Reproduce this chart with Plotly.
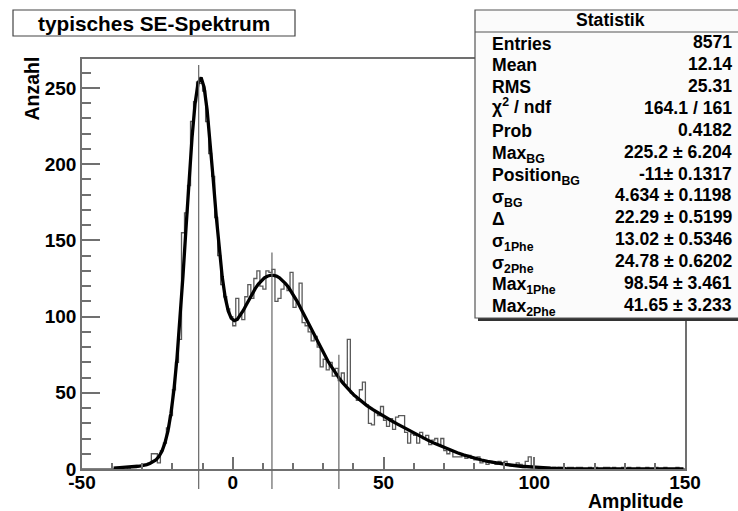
import numpy as np
import plotly.graph_objects as go

FONT = "Liberation Sans"

# ---------------- data ----------------
bin_low = -50
bin_width = 1
counts = [
    0, 0, 0, 0, 0, 0, 0, 0, 0, 0,            # -50 .. -41
    0, 1, 0, 1, 1, 0, 1, 1, 2, 2,            # -40 .. -31
    3, 3, 4, 10, 10, 4, 12, 17, 27, 35,      # -30 .. -21
    52, 70, 85, 155, 168, 186, 228, 241, 254, 253,   # -20 .. -11
    248, 228, 207, 192, 165, 140, 121, 113, 105, 100,  # -10 .. -1
    94, 112, 101, 98, 113, 121, 112, 125, 130, 120,    # 0 .. 9
    118, 130, 129, 131, 110, 112, 118, 121, 117, 129,  # 10 .. 19
    106, 109, 122, 96, 94, 90, 84, 87, 80, 67,         # 20 .. 29
    72, 65, 70, 61, 66, 58, 63, 55, 85, 50,            # 30 .. 39
    48, 45, 52, 57, 42, 30, 29, 37, 35, 41,            # 40 .. 49
    32, 28, 33, 26, 34, 35, 35, 24, 17, 23,            # 50 .. 59
    22, 17, 24, 20, 22, 16, 19, 20, 16, 20,            # 60 .. 69
    12, 10, 12, 8, 8, 8, 9, 7, 9, 7,                   # 70 .. 79
    6, 8, 4, 5, 3, 5, 4, 3, 5, 3,                      # 80 .. 89
    5, 3, 2, 2, 4, 3, 1, 5, 8, 1,                      # 90 .. 99
    1, 1, 0, 1, 1, 0, 1, 0, 1, 1,                      # 100 .. 109
    0, 1, 1, 0, 1, 1, 0, 0, 1, 0,                      # 110 .. 119
    1, 0, 0, 1, 1, 0, 1, 0, 0, 1,                      # 120 .. 129
    0, 1, 0, 0, 1, 0, 0, 1, 0, 0,                      # 130 .. 139
    1, 0, 0, 1, 0, 0, 0, 1, 0, 0,                      # 140 .. 149
]

fit_x = [-39.5, -37.5, -35.5, -33.5, -32.5, -31.5, -30.5, -29.5, -28.5, -27.5,
         -26.5, -25.5, -24.5, -23.5, -22.5, -21.5, -20.5, -19.5, -18.5, -17.5,
         -16.5, -15.5, -14.5, -13.5, -12.5, -11.5, -10.5, -9.5, -8.5, -7.5,
         -6.5, -5.5, -4.5, -3.5, -2.5, -1.5, -0.5, 0.5, 1.5, 2.5,
         3.5, 4.5, 5.5, 6.5, 7.5, 8.5, 9.5, 10.5, 11.5, 12.5,
         13.5, 14.5, 15.5, 16.5, 17.5, 18.5, 19.5, 20.5, 21.5, 22.5,
         23.5, 24.5, 25.5, 26.5, 27.5, 28.5, 29.5, 30.5, 31.5, 32.5,
         33.5, 34.5, 35.5, 36.5, 37.5, 38.5, 39.5, 40.5, 42.5, 44.5,
         46.5, 48.5, 50.5, 52.5, 54.5, 56.5, 58.5, 60.5, 62.5, 64.5,
         66.5, 68.5, 70.5, 72.5, 74.5, 76.5, 78.5, 80.5, 82.5, 84.5,
         86.5, 88.5, 90.5, 95.5, 100.5, 105.5, 110.5, 120.5, 135.5, 149.5]
fit_y = [0.6, 0.8, 1.0, 1.3, 1.5, 1.8, 2.1, 2.4, 2.9, 3.6,
         4.5, 5.9, 8.2, 11.6, 17.0, 24.9, 36.4, 52.1, 72.6, 97.7,
         126.8, 158.2, 189.5, 217.6, 239.7, 253.2, 256.8, 250.4, 235.6, 214.6,
         190.5, 166.2, 144.2, 126.1, 112.6, 103.7, 98.9, 97.3, 98.2, 100.7,
         104.0, 107.8, 111.6, 115.2, 118.5, 121.3, 123.6, 125.4, 126.5, 127.1,
         127.1, 126.6, 125.5, 123.8, 121.7, 119.2, 116.2, 113.0, 109.5, 105.7,
         101.8, 97.9, 93.8, 89.8, 85.8, 81.9, 78.1, 74.5, 71.0, 67.8,
         64.7, 61.7, 59.0, 56.5, 54.1, 51.9, 49.9, 48.0, 44.6, 41.6,
         38.9, 36.4, 34.1, 31.8, 29.6, 27.4, 25.3, 23.2, 21.0, 19.1,
         17.2, 15.5, 13.8, 12.1, 10.7, 9.3, 8.05, 6.9, 5.9, 5.0,
         4.25, 3.6, 3.0, 1.8, 1.1, 0.6, 0.3, 0.1, 0.0, 0.0]

marker_x = [-11.3, 13.0, 35.2]
marker_top = [265, 142, 75]

x_tickvals = [-50, 0, 50, 100, 150]
x_ticktext = ["-50", "0", "50", "100", "150"]
y_tickvals = [0, 50, 100, 150, 200, 250]
y_ticktext = ["0", "50", "100", "150", "200", "250"]

title_text = "typisches SE-Spektrum"
x_title = "Amplitude"
y_title = "Anzahl"
stats_title = "Statistik"
stat_labels = ["Entries", "Mean", "RMS", "χ<sup>2</sup> / ndf", "Prob",
               "Max<sub>BG</sub>", "Position<sub>BG</sub>", "σ<sub>BG</sub>",
               "Δ", "σ<sub>1Phe</sub>", "σ<sub>2Phe</sub>",
               "Max<sub>1Phe</sub>", "Max<sub>2Phe</sub>"]
stat_values = ["8571", "12.14", "25.31", "164.1 / 161", "0.4182",
               "225.2 ± 6.204", "-11± 0.1317", "4.634 ± 0.1198",
               "22.29 ± 0.5199", "13.02 ± 0.5346", "24.78 ± 0.6202",
               "98.54 ± 3.461", "41.65 ± 3.233"]

# ---------------- layout helpers (pixel -> paper) ----------------
W, H = 738, 511
L, R, T, B = 82, 685, 59, 469
PW, PH = R - L, B - T


def xp(px):
    return (px - L) / PW


def yp(py):
    return (B - py) / PH


edges = bin_low + bin_width * np.arange(len(counts) + 1)
hist_y = list(counts) + [counts[-1]]

fig = go.Figure()
fig.add_trace(go.Scatter(x=edges, y=hist_y, mode="lines", line_shape="hv",
                         line=dict(color="#5a5a5a", width=1.3),
                         hoverinfo="skip", showlegend=False))
fig.add_trace(go.Scatter(x=fit_x, y=fit_y, mode="lines",
                         line=dict(color="black", width=3.3),
                         hoverinfo="skip", showlegend=False))

shapes = []
for mx, mt in zip(marker_x, marker_top):
    shapes.append(dict(type="line", xref="x", yref="y", x0=mx, x1=mx, y0=0, y1=mt,
                       line=dict(color="#666666", width=1.2), layer="above"))
    shapes.append(dict(type="line", xref="x", yref="paper", x0=mx, x1=mx,
                       y0=yp(489), y1=0,
                       line=dict(color="#666666", width=1.2), layer="above"))

# title box
shapes.append(dict(type="rect", xref="paper", yref="paper",
                   x0=xp(13), x1=xp(295), y0=yp(36), y1=yp(10),
                   fillcolor="white", line=dict(color="#444444", width=1.2)))
# stats box with shadow
shapes.append(dict(type="rect", xref="paper", yref="paper",
                   x0=xp(478), x1=xp(750), y0=yp(321), y1=yp(316),
                   fillcolor="#333333", line=dict(width=0)))
shapes.append(dict(type="rect", xref="paper", yref="paper",
                   x0=xp(475), x1=xp(746), y0=yp(318), y1=yp(10),
                   fillcolor="#fbfbfb", line=dict(color="#555555", width=1.2)))
shapes.append(dict(type="line", xref="paper", yref="paper",
                   x0=xp(475), x1=xp(746), y0=yp(32), y1=yp(32),
                   line=dict(color="#555555", width=1.2)))

bold = dict(family=FONT, color="black", weight="bold")
SF = 17.6
annotations = [
    dict(text=title_text, x=xp(154), y=yp(24), xref="paper", yref="paper",
         xanchor="center", yanchor="middle", showarrow=False, font=dict(size=20.8, **bold)),
    dict(text=stats_title, x=xp(610.5), y=yp(20.5), xref="paper", yref="paper",
         xanchor="center", yanchor="middle", showarrow=False, font=dict(size=SF, **bold)),
    dict(text=y_title, x=xp(32), y=yp(88.5), xref="paper", yref="paper", textangle=-90,
         xanchor="center", yanchor="middle", showarrow=False, font=dict(size=19.5, **bold)),
    dict(text=x_title, x=1, y=yp(501), xref="paper", yref="paper",
         xanchor="right", yanchor="middle", showarrow=False, font=dict(size=19.5, **bold)),
]

row0, row_step = 42.2, 21.9
for i, (lab, val) in enumerate(zip(stat_labels, stat_values)):
    cy = row0 + i * row_step
    if "<sup>" in lab:
        ya, yy = "bottom", cy + 0.570 * SF + 1
    else:
        ya, yy = "top", cy - 0.547 * SF - 1
    annotations.append(dict(text=lab, x=xp(490), y=yp(yy), xref="paper", yref="paper",
                            xanchor="left", yanchor=ya, showarrow=False,
                            font=dict(size=SF, **bold)))
    annotations.append(dict(text=val, x=xp(734), y=yp(cy), xref="paper", yref="paper",
                            xanchor="right", yanchor="middle", showarrow=False,
                            font=dict(size=SF, **bold)))

axis_col = "#707070"
fig.update_layout(
    width=W, height=H, autosize=False,
    margin=dict(l=L, r=W - R, t=T, b=H - B, pad=0),
    paper_bgcolor="white", plot_bgcolor="white",
    shapes=shapes, annotations=annotations, showlegend=False,
    xaxis=dict(range=[-50, 150], showgrid=False, zeroline=False,
               showline=True, linecolor=axis_col, linewidth=1.5, mirror=True,
               ticks="inside", ticklen=12, tickwidth=1.5, tickcolor=axis_col,
               tickmode="array", tickvals=x_tickvals, ticktext=x_ticktext,
               ticklabelstandoff=-5,
               minor=dict(dtick=10, tick0=-50, ticks="inside", ticklen=6,
                          tickwidth=1.5, tickcolor=axis_col),
               tickfont=dict(size=19, **bold)),
    yaxis=dict(range=[0, 269], showgrid=False, zeroline=False,
               showline=True, linecolor=axis_col, linewidth=1.5, mirror=True,
               ticks="inside", ticklen=18, tickwidth=1.5, tickcolor=axis_col,
               tickmode="array", tickvals=y_tickvals, ticktext=y_ticktext,
               minor=dict(dtick=10, tick0=0, ticks="inside", ticklen=9,
                          tickwidth=1.5, tickcolor=axis_col),
               tickfont=dict(size=19, **bold)),
)

fig.write_html("out.html")
